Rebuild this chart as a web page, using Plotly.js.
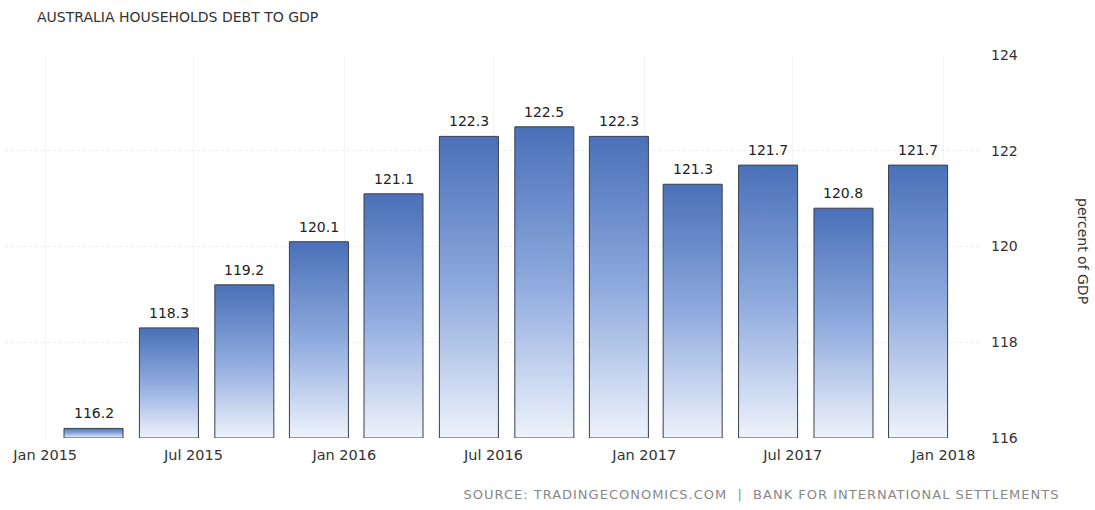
<!DOCTYPE html>
<html><head><meta charset="utf-8">
<script src="https://cdn.plot.ly/plotly-3.0.1.min.js"></script>
<style>html,body{margin:0;padding:0;background:#fff}#chart{width:1095px;height:510px}</style>
</head><body><div id="chart"></div>
<script>
const dates = ['2015-03-01','2015-06-01','2015-09-01','2015-12-01','2016-03-01','2016-06-01','2016-09-01','2016-12-01','2017-03-01','2017-06-01','2017-09-01','2017-12-01'];
const debtToGdp = [116.2,118.3,119.2,120.1,121.1,122.3,122.5,122.3,121.3,121.7,120.8,121.7];
const xTickVals = ['2015-01-01','2015-07-01','2016-01-01','2016-07-01','2017-01-01','2017-07-01','2018-01-01'];
const xTickText = ['Jan 2015','Jul 2015','Jan 2016','Jul 2016','Jan 2017','Jul 2017','Jan 2018'];
const yTickVals = [116,118,120,122,124];
const chartTitle = 'AUSTRALIA HOUSEHOLDS DEBT TO GDP';
const yTitle = 'percent of GDP';
const sourceText = 'SOURCE: TRADINGECONOMICS.COM  |  BANK FOR INTERNATIONAL SETTLEMENTS';

const baseLevel = 116;
const FONT = 'DejaVu Sans, Verdana, sans-serif';

const trace = {
  type: 'bar',
  x: dates,
  y: debtToGdp.map(v => v - baseLevel),
  base: baseLevel,
  marker: {color: '#8aa2d0', line: {color: '#3a3f4a', width: 1}},
  hoverinfo: 'skip'
};

const labels = dates.map((d, i) => ({
  x: d, y: debtToGdp[i], xref: 'x', yref: 'y',
  text: debtToGdp[i].toFixed(1), showarrow: false,
  yanchor: 'bottom', yshift: 5,
  font: {family: FONT, size: 14, color: '#222'}
}));

const layout = {
  width: 1095, height: 510,
  margin: {l: 5, r: 113, t: 55, b: 72},
  paper_bgcolor: '#fff', plot_bgcolor: '#fff',
  showlegend: false, hovermode: false, bargap: 0.2,
  title: {text: chartTitle, x: 37/1095, xref: 'container', xanchor: 'left',
          y: 1 - 17/510, yref: 'container', yanchor: 'middle',
          font: {family: FONT, size: 14, color: '#333'}},
  xaxis: {type: 'date', range: ['2014-11-13', '2018-02-17'],
          tickvals: xTickVals, ticktext: xTickText,
          tickfont: {family: FONT, size: 14.5, color: '#333'},
          showgrid: true, gridcolor: '#f4f4f4', zeroline: false, showline: false,
          ticks: '', ticklabelstandoff: 6, fixedrange: true},
  yaxis: {side: 'right', range: [116, 124], tickvals: yTickVals,
          tickfont: {family: FONT, size: 14, color: '#333'},
          showgrid: true, gridcolor: '#ececec', griddash: 'dot', zeroline: false,
          showline: false, ticks: '', ticklabelstandoff: 8, fixedrange: true},
  annotations: labels.concat([
    {text: yTitle, textangle: 90, xref: 'paper', yref: 'paper',
     x: (1083 - 5) / 977, y: (438 - 251) / 383, xanchor: 'center', yanchor: 'middle',
     showarrow: false, font: {family: FONT, size: 14, color: '#333'}},
    {text: sourceText, xref: 'paper', yref: 'paper',
     x: (495 - 5) / 977, y: (438 - 494) / 383, xanchor: 'left', yanchor: 'middle',
     showarrow: false, font: {family: FONT, size: 13, color: '#888'}}
  ])
};

Plotly.newPlot('chart', [trace], layout, {displayModeBar: false, staticPlot: true}).then(gd => {
  const svg = gd.querySelector('.main-svg');
  let defs = svg.querySelector('defs');
  const ns = 'http://www.w3.org/2000/svg';
  const grad = document.createElementNS(ns, 'linearGradient');
  grad.setAttribute('id', 'barGrad');
  grad.setAttribute('x1', '0'); grad.setAttribute('y1', '0');
  grad.setAttribute('x2', '0'); grad.setAttribute('y2', '1');
  [['0%', '#4a70b8'], ['50%', '#8eaade'], ['100%', '#eef3fb']].forEach(([o, c]) => {
    const s = document.createElementNS(ns, 'stop');
    s.setAttribute('offset', o); s.setAttribute('stop-color', c);
    grad.appendChild(s);
  });
  defs.appendChild(grad);
  gd.querySelectorAll('.barlayer .point path').forEach(p => { p.style.fill = 'url(#barGrad)'; });
  gd.querySelectorAll('.annotation-text').forEach(t => {
    if (t.textContent.indexOf('SOURCE') === 0) t.style.letterSpacing = '1px';
  });
});
</script>
</body></html>
